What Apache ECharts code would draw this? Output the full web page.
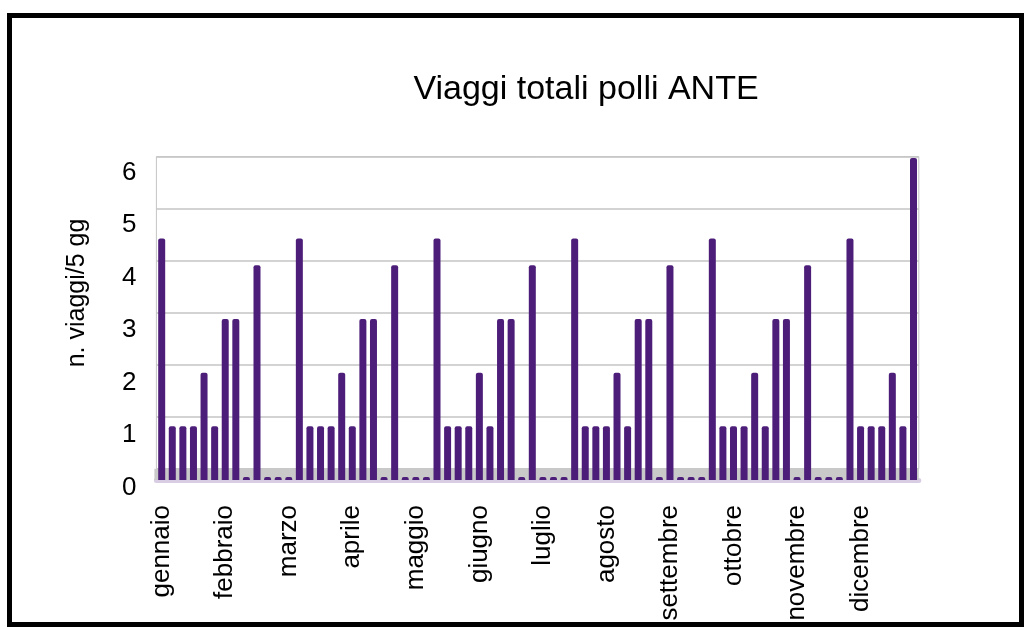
<!DOCTYPE html>
<html>
<head>
<meta charset="utf-8">
<script src="https://cdn.jsdelivr.net/npm/echarts@6/dist/echarts.min.js"></script>
<style>
html,body{margin:0;padding:0;background:#fff;}
#chart{width:1032px;height:630px;}
</style>
</head>
<body>
<div id="chart"></div>
<script>
// ---- data ----
const title = 'Viaggi totali polli ANTE';
const yName = 'n. viaggi/5 gg';
const months = ['gennaio','febbraio','marzo','aprile','maggio','giugno','luglio','agosto','settembre','ottobre','novembre','dicembre'];
const periodsPerMonth = ['1','2','3','4','5','6'];
const values = [
  4.5,1,1,1,2,1,3,3,0,4,0,0,0,
  4.5,1,1,1,2,1,3,3,0,4,0,0,0,
  4.5,1,1,1,2,1,3,3,0,4,0,0,0,
  4.5,1,1,1,2,1,3,3,0,4,0,0,0,
  4.5,1,1,1,2,1,3,3,0,4,0,0,0,
  4.5,1,1,1,2,1,6
];
const yTicks = [0,1,2,3,4,5,6];

const categories = [];
months.forEach(m => periodsPerMonth.forEach(p => categories.push(m + '-' + p)));

const FONT = '"Liberation Sans", Arial, sans-serif';
const chart = echarts.init(document.getElementById('chart'), null, {renderer:'canvas'});

const gridLeft = 156.4, gridRight = 113.2;
const yMin = yTicks[0], yMax = yTicks[yTicks.length-1];
chart.setOption({
  backgroundColor: '#ffffff',
  animation: false,
  title: {
    text: title,
    left: 581, top: 68, textAlign: 'center',
    textStyle: {fontFamily: FONT, fontSize: 34, fontWeight: 'normal', color: '#000'}
  },
  grid: [
    // front plane (bars)
    {left: gridLeft, right: gridRight, top: 158, bottom: 150},
    // back wall (gridlines)
    {left: gridLeft, right: gridRight, top: 156.7, bottom: 161.3, show: true, borderColor: '#c4c4c4', borderWidth: 1, backgroundColor: 'transparent'},
    // value labels
    {left: gridLeft, right: gridRight, top: 172.5, bottom: 142.5}
  ],
  xAxis: [
    {
      type: 'category', gridIndex: 0, data: categories, boundaryGap: true,
      offset: 3,
      axisLine: {show: true, lineStyle: {color: '#d8cde2', width: 5}},
      axisTick: {show: false},
      axisLabel: {
        interval: 5, rotate: 90, margin: 22, color: '#000',
        fontFamily: FONT, fontSize: 26,
        formatter: v => v.split('-')[0]
      }
    },
    {
      type: 'category', gridIndex: 1, data: categories, boundaryGap: true,
      axisLine: {show: false}, axisTick: {show: false}, axisLabel: {show: false}
    },
    {
      type: 'category', gridIndex: 2, data: categories, boundaryGap: true, show: false
    }
  ],
  yAxis: [
    {
      type: 'value', gridIndex: 0, min: yMin, max: yMax, interval: 1,
      axisLine: {show: false}, axisTick: {show: false}, splitLine: {show: false}, axisLabel: {show: false}
    },
    {
      type: 'value', gridIndex: 1, min: yMin, max: yMax, interval: 1,
      axisLine: {show: false}, axisTick: {show: false}, axisLabel: {show: false},
      splitLine: {show: true, lineStyle: {color: '#c4c4c4', width: 1.5}}
    },
    {
      type: 'value', gridIndex: 2, min: yMin, max: yMax, interval: 1,
      axisLine: {show: false}, axisTick: {show: false}, splitLine: {show: false},
      axisLabel: {margin: 20, color: '#000', fontFamily: FONT, fontSize: 26}
    }
  ],
  series: [{
    type: 'bar', xAxisIndex: 0, yAxisIndex: 0, data: values,
    barWidth: 7, barMinHeight: 3,
    itemStyle: {color: '#4d1e79', borderRadius: [2,2,0,0]},
    z: 5
  }]
});

// decorations: 3D floor band, y-axis name, outer frame
const slot = chart.convertToPixel({xAxisIndex: 0}, categories[1]) - chart.convertToPixel({xAxisIndex: 0}, categories[0]);
const xL = chart.convertToPixel({xAxisIndex: 0}, categories[0]) - slot / 2;
const xR = chart.convertToPixel({xAxisIndex: 0}, categories[categories.length-1]) + slot / 2;
const yBack0 = chart.convertToPixel({yAxisIndex: 1}, 0);
const yFront0 = chart.convertToPixel({yAxisIndex: 0}, 0);

chart.setOption({
  graphic: [
    {type: 'rect', z: 3, shape: {x: xL - 2, y: yBack0, width: xR - xL + 2, height: yFront0 - yBack0}, style: {fill: '#c9c9c9'}},
    {type: 'text', z: 10, x: 77, y: 293, rotation: Math.PI / 2,
     style: {text: yName, fontFamily: FONT, fontSize: 25, fill: '#000', align: 'center', verticalAlign: 'middle'}},
    {type: 'rect', z: 10, shape: {x: 9.5, y: 15.5, width: 1012, height: 609}, style: {fill: 'none', stroke: '#000', lineWidth: 5}}
  ]
});
</script>
</body>
</html>
